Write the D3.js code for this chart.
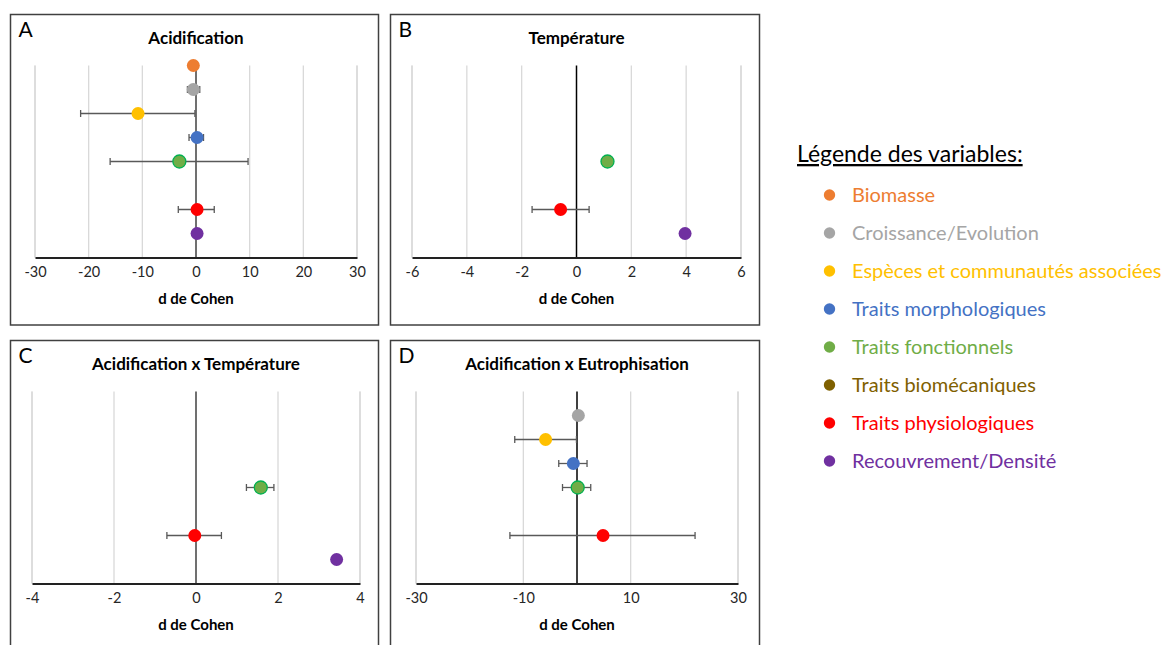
<!DOCTYPE html>
<html>
<head>
<meta charset="utf-8">
<script src="https://cdn.jsdelivr.net/npm/d3@7"></script>
<style>
  body { margin: 0; background: #fff; }
  svg { display: block; font-family: Lato, "Open Sans", sans-serif; }
</style>
</head>
<body>
<svg id="chart" width="1167" height="645"></svg>
<script>
// variables (rows, top to bottom) and their colours
const categories = ["Biomasse", "Croissance/Evolution", "Espèces et communautés associées",
  "Traits morphologiques", "Traits fonctionnels", "Traits biomécaniques",
  "Traits physiologiques", "Recouvrement/Densité"];
const colours = ["#ED7D31", "#A5A5A5", "#FFC000", "#4472C4", "#70AD47", "#7F6000", "#FF0000", "#7030A0"];

// A - Acidification : d de Cohen, lower / upper bound of error bar
const acidD  = [-0.5, -0.5, -10.8, 0.2, -3.1, null, 0.2, 0.2];
const acidLo = [null, -1.6, -21.5, -1.3, -16.0, null, -3.3, null];
const acidHi = [null, 0.7, -0.2, 1.4, 9.7, null, 3.4, null];

// B - Température
const tempD  = [null, null, null, null, 1.13, null, -0.58, 3.96];
const tempLo = [null, null, null, null, null, null, -1.62, null];
const tempHi = [null, null, null, null, null, null, 0.46, null];

// C - Acidification x Température
const acTempD  = [null, null, null, null, 1.58, null, -0.03, 3.43];
const acTempLo = [null, null, null, null, 1.23, null, -0.71, null];
const acTempHi = [null, null, null, null, 1.90, null, 0.62, null];

// D - Acidification x Eutrophisation
const acEutD  = [null, 0.25, -5.85, -0.68, 0.13, null, 4.85, null];
const acEutLo = [null, null, -11.6, -3.4, -2.7, null, -12.5, null];
const acEutHi = [null, null, -0.1, 1.87, 2.56, null, 22.0, null];

// axis ticks
const ticksA = [-30, -20, -10, 0, 10, 20, 30];
const ticksB = [-6, -4, -2, 0, 2, 4, 6];
const ticksC = [-4, -2, 0, 2, 4];
const ticksD = [-30, -10, 10, 30];

const panels = [
  {letter: "A", title: "Acidification", d: acidD, lo: acidLo, hi: acidHi, ticks: ticksA,
   domain: [-30, 30], box: [10.5, 14.5, 368, 310.5], xr: [35, 357], zero: "#404040"},
  {letter: "B", title: "Température", d: tempD, lo: tempLo, hi: tempHi, ticks: ticksB,
   domain: [-6, 6], box: [390.5, 14.5, 369, 310.5], xr: [412, 741], zero: "#000"},
  {letter: "C", title: "Acidification x Température", d: acTempD, lo: acTempLo, hi: acTempHi, ticks: ticksC,
   domain: [-4, 4], box: [10.5, 340.5, 368, 320], xr: [32, 360], zero: "#404040"},
  {letter: "D", title: "Acidification x Eutrophisation", d: acEutD, lo: acEutLo, hi: acEutHi, ticks: ticksD,
   domain: [-30, 30], box: [390.5, 340.5, 369, 320], xr: [416, 738], zero: "#000"}
];

const svg = d3.select("#chart");

panels.forEach(p => {
  const [bx, by, bw, bh] = p.box;
  const g = svg.append("g");

  g.append("rect")
    .attr("x", bx).attr("y", by).attr("width", bw).attr("height", bh)
    .attr("fill", "#fff").attr("stroke", "#404040").attr("stroke-width", 1.5);

  const x = d3.scaleLinear().domain(p.domain).range(p.xr);
  // y: rows 8 (top) .. 1 (bottom), axis at 0
  const y = d3.scaleLinear().domain([0, 8]).range([by + 243, by + 51]);
  const rowY = i => y(8 - i);

  // vertical gridlines
  g.append("g").selectAll("line")
    .data(p.ticks.concat(p.domain).filter(t => t !== 0))
    .enter().append("line")
    .attr("x1", d => x(d)).attr("x2", d => x(d))
    .attr("y1", y(8)).attr("y2", y(0))
    .attr("stroke", "#d9d9d9").attr("stroke-width", 1.3);

  // vertical axis at 0
  g.append("line")
    .attr("x1", x(0)).attr("x2", x(0))
    .attr("y1", y(8)).attr("y2", y(0))
    .attr("stroke", p.zero).attr("stroke-width", 1.5);

  // bottom axis
  const axis = g.append("g")
    .attr("transform", `translate(0,${y(0)})`)
    .call(d3.axisBottom(x).tickValues(p.ticks).tickSize(0).tickPadding(9).tickFormat(d3.format("d")));
  axis.select(".domain").attr("stroke", "#222").attr("stroke-width", 1.8);
  axis.selectAll("text")
    .attr("font-family", "Lato, sans-serif").attr("font-size", 14.5).attr("fill", "#262626")
    .text(d => (d < 0 ? "-" + Math.abs(d) : d));

  // titles
  g.append("text")
    .attr("x", bx + 8).attr("y", by + 22)
    .attr("font-size", 21).attr("fill", "#000")
    .text(p.letter);
  g.append("text")
    .attr("x", (p.xr[0] + p.xr[1]) / 2).attr("y", by + 29)
    .attr("text-anchor", "middle").attr("font-size", 17).attr("font-weight", "bold")
    .text(p.title);
  g.append("text")
    .attr("x", (p.xr[0] + p.xr[1]) / 2).attr("y", y(0) + 46)
    .attr("text-anchor", "middle").attr("font-size", 15).attr("font-weight", "bold")
    .text("d de Cohen");

  const rows = categories.map((c, i) => ({i, d: p.d[i], lo: p.lo[i], hi: p.hi[i]}))
    .filter(r => r.d !== null);

  // error bars
  const eb = g.append("g").attr("stroke", "#595959").attr("stroke-width", 1.3);
  rows.filter(r => r.lo !== null).forEach(r => {
    const cy = rowY(r.i);
    eb.append("line").attr("x1", x(r.lo)).attr("x2", x(r.hi)).attr("y1", cy).attr("y2", cy);
    [r.lo, r.hi].forEach(v => {
      eb.append("line").attr("x1", x(v)).attr("x2", x(v)).attr("y1", cy - 3.5).attr("y2", cy + 3.5);
    });
  });

  // markers
  g.append("g").selectAll("circle")
    .data(rows)
    .enter().append("circle")
    .attr("cx", r => x(r.d))
    .attr("cy", r => rowY(r.i))
    .attr("r", 6.5)
    .attr("fill", r => colours[r.i])
    .attr("stroke", r => r.i === 4 ? "#00B050" : colours[r.i])
    .attr("stroke-width", r => r.i === 4 ? 1.3 : 0);
});

// legend
const legend = svg.append("g");
legend.append("text")
  .attr("x", 797).attr("y", 162)
  .attr("font-size", 23).attr("fill", "#000")
  .attr("text-decoration", "underline")
  .text("Légende des variables:");

const ly = d3.scalePoint().domain(categories).range([195, 461]);
const items = legend.selectAll("g.item")
  .data(categories)
  .enter().append("g").attr("class", "item");
items.append("circle")
  .attr("cx", 829.5).attr("cy", d => ly(d)).attr("r", 5.7)
  .attr("fill", (d, i) => colours[i]);
items.append("text")
  .attr("x", 852).attr("y", d => ly(d) + 7)
  .attr("font-size", 20)
  .attr("fill", (d, i) => colours[i])
  .text(d => d);
</script>
</body>
</html>
